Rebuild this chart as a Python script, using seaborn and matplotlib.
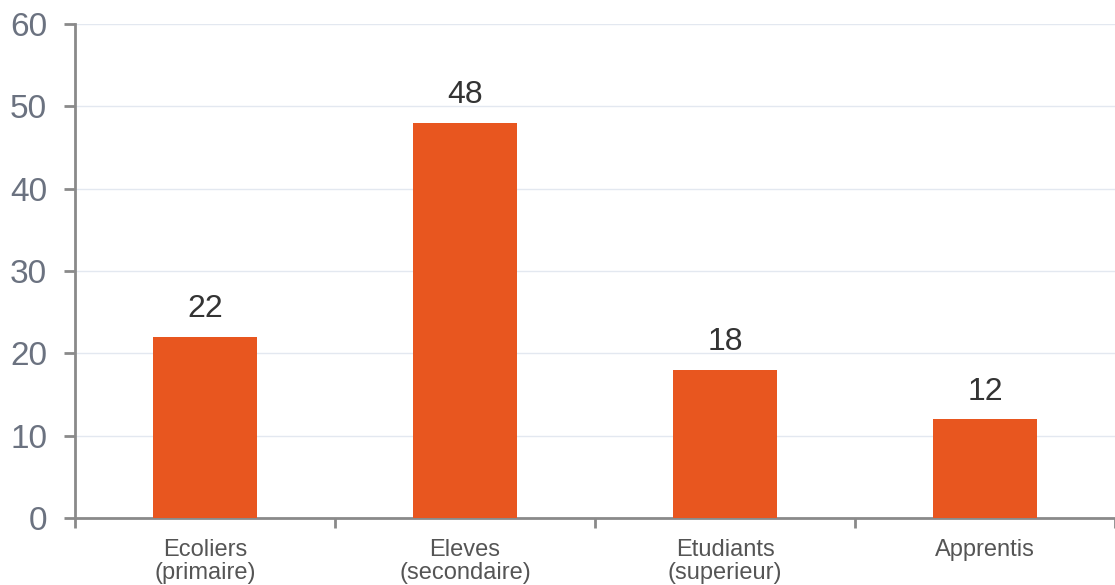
import matplotlib
matplotlib.use("Agg")
import matplotlib.pyplot as plt
import seaborn as sns
import pandas as pd
import numpy as np

categories = ["Ecoliers\n(primaire)", "Eleves\n(secondaire)", "Etudiants\n(superieur)", "Apprentis"]
values = [22, 48, 18, 12]
yticks = [0, 10, 20, 30, 40, 50, 60]

sns.set_theme(style="white")
plt.rcParams['font.family'] = ['Liberation Sans', 'DejaVu Sans']

df = pd.DataFrame({"cat": categories, "val": values})

fig = plt.figure(figsize=(11.15, 5.85), dpi=100)
ax = fig.add_axes([75/1115, 67/585, 1040/1115, 494/585])

sns.barplot(data=df, x="cat", y="val", color="#E8561F", width=0.4, ax=ax,
            saturation=1, zorder=3, edgecolor="none")

ax.set_ylim(0, 60)
ax.set_xlim(-0.5, len(categories) - 0.5)
ax.set_yticks(yticks)
ax.set_yticklabels([str(t) for t in yticks], fontsize=24, color="#6b7280")
ax.yaxis.grid(True, color="#e3e8f0", linewidth=1, zorder=0)
ax.xaxis.grid(False)
ax.set_xlabel("")
ax.set_ylabel("")

for s in ["top", "right"]:
    ax.spines[s].set_visible(False)
for s in ["left", "bottom"]:
    ax.spines[s].set_color("#8a8a8a")
    ax.spines[s].set_linewidth(2)

ax.tick_params(axis="y", which="major", left=True, length=8, width=2, color="#8a8a8a", direction="out", pad=12)
ax.set_xticks(range(len(categories)))
ax.set_xticklabels(categories, fontsize=17, color="#555555", linespacing=1.05)
ax.tick_params(axis="x", which="major", bottom=True, length=0, pad=15)
ax.set_xticks(np.arange(-0.5, len(categories), 1.0), minor=True)
ax.tick_params(axis="x", which="minor", bottom=True, length=7, width=2, color="#8a8a8a", direction="out")

for i, v in enumerate(values):
    ax.annotate(str(v), (i, v), xytext=(0, 9), textcoords="offset points",
                ha="center", va="bottom", fontsize=23, color="#333333")

fig.savefig("out.png", dpi=100)
